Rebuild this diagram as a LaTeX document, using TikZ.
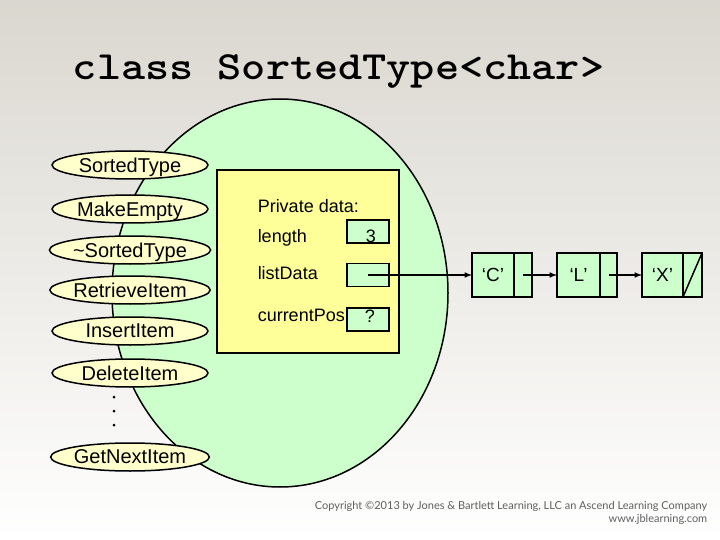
\documentclass[tikz,border=0pt]{standalone}
\usepackage{fontspec}
\setmainfont{Liberation Sans}
\newfontfamily\notefont{Lato}
\usetikzlibrary{positioning,shapes.geometric}
\definecolor{bgtop}{RGB}{218,215,207}
\definecolor{bgmid}{RGB}{242,241,238}
\definecolor{classgreen}{RGB}{204,255,204}
\definecolor{datayellow}{RGB}{255,255,153}
\definecolor{opyellow}{RGB}{255,255,204}
\definecolor{notegray}{RGB}{95,95,95}

\begin{document}
\begin{tikzpicture}[x=1pt,y=-1pt,>=latex,line width=1.5pt,
		op/.style={ellipse,draw,fill=opyellow,minimum width=156pt,minimum height=28pt,inner sep=0pt,text depth=0pt,font=\fontsize{20}{24}\selectfont},
		cell/.style={rectangle,draw,fill=classgreen,minimum height=44pt,inner sep=0pt,outer sep=0pt,font=\fontsize{19}{22}\selectfont},
		field/.style={rectangle,draw,fill=classgreen,minimum width=42pt,minimum height=23pt,inner sep=0pt},
		member/.style={anchor=base west,inner sep=0pt,font=\fontsize{18}{22}\selectfont},
		note/.style={anchor=base east,inner sep=0pt,text=notegray,font=\notefont\fontsize{11}{13}\selectfont}]
				\useasboundingbox (0,0) rectangle (720,540);
				\shade[top color=bgtop,middle color=bgmid,bottom color=white] (0,0) rectangle (720,540);

				\node[anchor=base west,inner sep=0pt,xscale=1.15,transform shape,font=\ttfamily\bfseries\fontsize{40}{44}\selectfont] (title) at (72,80) {class SortedType<char>};

				\path[draw,fill=classgreen] (280,293) ellipse [x radius=168,y radius=194];

				\node[draw,fill=datayellow,minimum width=182pt,minimum height=183pt,inner sep=0pt] (private) at (308,261.5) {};
				\node[member] (privlabel) at (257,213) {Private data:};
				\node[member] (lenlabel) at (257,243) {length};
				\node[member] (datalabel) at (257,279) {listData};
				\node[member] (poslabel) at (257,321) {currentPos};
				\node[field] (lenbox) at (368,231.5) {};
				\node[field] (databox) at (368,275) {};
				\node[field] (posbox) at (368,319.5) {};
				\node[member] (lenval) at (365,243) {3};
				\node[member] (posval) at (364,322) {?};

				\node[cell,minimum width=42pt] (cdata) at (493,275) {‘C’};
				\node[cell,minimum width=18pt,right=0pt of cdata] (cnext) {};
				\node[cell,minimum width=43pt,right=25pt of cnext] (ldata) {‘L’};
				\node[cell,minimum width=17pt,right=0pt of ldata] (lnext) {};
				\node[cell,minimum width=41pt,right=25pt of lnext] (xdata) {‘X’};
				\node[cell,minimum width=19pt,right=0pt of xdata] (xnext) {};

				\path[->,draw] (databox.center) -- (cdata);
				\path[->,draw] (cnext.center) -- (ldata);
				\path[->,draw] (lnext.center) -- (xdata);
				\path[draw] (xnext.south west) -- (xnext.north east);

				\node[op] (ctor) at (130,165) {SortedType};
				\node[op] (makeempty) at (130,209) {MakeEmpty};
				\node[op] (dtor) at (130,250) {\textasciitilde SortedType};
				\node[op] (retrieve) at (130,290) {RetrieveItem};
				\node[op] (insert) at (130,331) {InsertItem};
				\node[op] (delete) at (130,373) {DeleteItem};
				\node[op] (getnext) at (130,457) {GetNextItem};

				\path[fill] (114,397) circle (1.5pt);
				\path[fill] (114,411) circle (1.5pt);
				\path[fill] (114,425) circle (1.5pt);

				\node[note] (copyright) at (708,509) {Copyright ©2013 by Jones \& Bartlett Learning, LLC an Ascend Learning Company};
				\node[note] (website) at (708,522) {www.jblearning.com};
			\end{tikzpicture}
\end{document}
